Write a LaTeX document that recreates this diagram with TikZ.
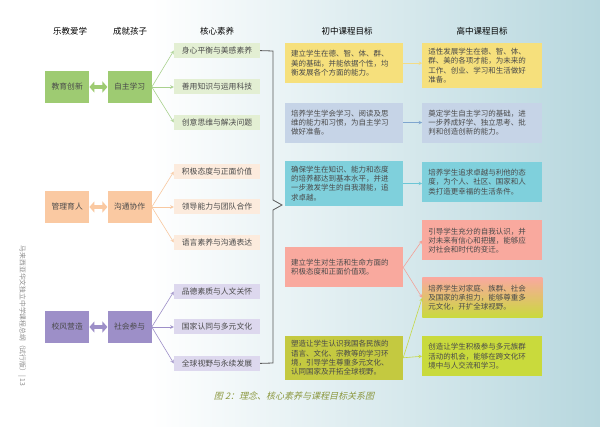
\documentclass[tikz,border=0pt]{standalone}
\usepackage{fontspec}
\setmainfont{Noto Sans CJK SC}
\newfontfamily\capfont[FakeSlant=0.25]{Noto Sans CJK SC}
\usepackage{xcolor}
\usepackage{tikz}
\usetikzlibrary{arrows.meta, positioning}

\definecolor{grpgreen}{HTML}{9ECB72}
\definecolor{coregreen}{HTML}{E3EFD3}
\definecolor{linegreen}{HTML}{A9D18E}
\definecolor{grporange}{HTML}{FAC9A2}
\definecolor{coreorange}{HTML}{FCEBDD}
\definecolor{lineorange}{HTML}{F8C8A0}
\definecolor{grppurple}{HTML}{9D8FC8}
\definecolor{corepurple}{HTML}{DDD8EE}
\definecolor{linepurple}{HTML}{9D8FC8}
\definecolor{goalyellow}{HTML}{F6E07C}
\definecolor{goalblue}{HTML}{C6D4E7}
\definecolor{goalteal}{HTML}{7FD0DC}
\definecolor{goalsalmon}{HTML}{F9A99E}
\definecolor{goalolive}{HTML}{C4C940}
\definecolor{goallime}{HTML}{C9DA3C}
\definecolor{arrowyellow}{HTML}{F3DC86}
\definecolor{arrowblue}{HTML}{7FA6CF}
\definecolor{arrowteal}{HTML}{6CC6D6}
\definecolor{arrowsalmon}{HTML}{F4A096}
\definecolor{arrowlime}{HTML}{C5D845}
\definecolor{textgray}{HTML}{4A4A4A}
\definecolor{capolive}{HTML}{8C9840}
\definecolor{bgmid}{HTML}{EDF1F3}
\definecolor{bgteal}{HTML}{B7D7DE}

\begin{document}
\begin{tikzpicture}[
    x=1pt, y=-1pt,
    heading/.style={
        font=\fontsize{8.5}{10}\selectfont,
        text=black
    },
    group/.style={
        rectangle,
        minimum width=44pt,
        minimum height=32pt,
        inner sep=0pt,
        text=textgray,
        font=\fontsize{7.8}{9}\selectfont
    },
    core/.style={
        rectangle,
        minimum width=86pt,
        minimum height=15pt,
        inner sep=0pt,
        text=textgray,
        font=\fontsize{7.8}{9}\selectfont
    },
    goal/.style={
        rectangle,
        text width=106pt,
        inner xsep=6pt,
        inner ysep=3pt,
        minimum height=40pt,
        align=left,
        text=textgray,
        font=\fontsize{7.5}{9.2}\selectfont
    },
    sgoal/.style={
        goal,
        text width=108pt
    },
    arrow/.style={
        ->,
        >=stealth,
        line width=0.6pt
    },
    twoway/.style={
        line width=4pt,
        {Triangle[length=5pt,width=11pt]}-{Triangle[length=5pt,width=11pt]}
    },
    bracket/.style={
        draw=black!65,
        line width=0.8pt
    }
]
% BACKGROUND
\useasboundingbox (0,0) rectangle (600,427);
\fill [white] (0,0) rectangle (600,427);
\shade [left color=white, middle color=bgmid, right color=bgteal] (150,0) rectangle (600,427);
% HEADINGS
\node (hedu) [heading] at (70,31) {乐教爱学};
\node (hkid) [heading] at (130,31) {成就孩子};
\node (hcore) [heading] at (217,31) {核心素养};
\node (hjun) [heading] at (347,31) {初中课程目标};
\node (hsen) [heading] at (482,31) {高中课程目标};
% GROUP 1
\node (tech) [core, fill=coregreen] at (217,87) {善用知识与运用科技};
\node (body) [core, fill=coregreen, above=21pt of tech] {身心平衡与美感素养};
\node (create) [core, fill=coregreen, below=20pt of tech] {创意思维与解决问题};
\node (selflearn) [group, fill=grpgreen, left=22pt of tech] {自主学习};
\node (edu) [group, fill=grpgreen, left=18pt of selflearn] {教育创新};
% GROUP 2
\node (lead) [core, fill=coreorange] at (217,207) {领导能力与团队合作};
\node (attitude) [core, fill=coreorange, above=20pt of lead] {积极态度与正面价值};
\node (lang) [core, fill=coreorange, below=20pt of lead] {语言素养与沟通表达};
\node (comm) [group, fill=grporange, left=22pt of lead] {沟通协作};
\node (mgmt) [group, fill=grporange, left=18pt of comm] {管理育人};
% GROUP 3
\node (nation) [core, fill=corepurple] at (217,327) {国家认同与多元文化};
\node (moral) [core, fill=corepurple, above=20pt of nation] {品德素质与人文关怀};
\node (global) [core, fill=corepurple, below=21pt of nation] {全球视野与永续发展};
\node (social) [group, fill=grppurple, left=22pt of nation] {社会参与};
\node (ethos) [group, fill=grppurple, left=18pt of social] {校风营造};
% JUNIOR GOALS
\node (jall) [goal, fill=goalyellow, anchor=north] at (344,43) {建立学生在德、智、体、群、\\美的基础，并能依据个性，均\\衡发展各个方面的能力。};
\node (jlearn) [goal, fill=goalblue, below=19pt of jall] {培养学生学会学习、阅读及思\\维的能力和习惯，为自主学习\\做好准备。};
\node (jexcel) [goal, fill=goalteal, minimum height=45pt, below=18pt of jlearn] {确保学生在知识、能力和态度\\的培养都达到基本水平，并进\\一步激发学生的自我潜能，追\\求卓越。};
\node (jvalue) [goal, fill=goalsalmon, below=41pt of jexcel] {建立学生对生活和生命方面的\\积极态度和正面价值观。};
\node (jworld) [goal, fill=goalolive, minimum height=44pt, below=48pt of jvalue] {塑造让学生认识我国各民族的\\语言、文化、宗教等的学习环\\境，引导学生尊重多元文化、\\认同国家及开拓全球视野。};
% SENIOR GOALS
\node (sall) [sgoal, fill=goalyellow, minimum height=45pt, right=19pt of jall.north east, anchor=north west] {适性发展学生在德、智、体、\\群、美的各项才能，为未来的\\工作、创业、学习和生活做好\\准备。};
\node (slearn) [sgoal, fill=goalblue, below=14pt of sall] {奠定学生自主学习的基础，进\\一步养成好学、独立思考、批\\判和创造创新的能力。};
\node (sexcel) [sgoal, fill=goalteal, below=19pt of slearn] {培养学生追求卓越与利他的态\\度，为个人、社区、国家和人\\类打造更幸福的生活条件。};
\node (sself) [sgoal, fill=goalsalmon, below=18pt of sexcel] {引导学生充分的自我认识，并\\对未来有信心和把握，能够应\\对社会和时代的变迁。};
\node (sduty) [sgoal, top color=goalsalmon, bottom color=goallime, below=17pt of sself] {培养学生对家庭、族群、社会\\及国家的承担力，能够尊重多\\元文化，开扩全球视野。};
\node (sculture) [sgoal, fill=goallime, below=18pt of sduty] {创造让学生积极参与多元族群\\活动的机会，能够在跨文化环\\境中与人交流和学习。};
% DOUBLE ARROWS
\draw [twoway, grpgreen] (edu.east) -- (selflearn.west);
\draw [twoway, grporange] (mgmt.east) -- (comm.west);
\draw [twoway, grppurple] (ethos.east) -- (social.west);
% FAN ARROWS
\draw [arrow, linegreen] (selflearn.east) -- (body.west);
\draw [arrow, linegreen] (selflearn.east) -- (tech.west);
\draw [arrow, linegreen] (selflearn.east) -- (create.west);
\draw [arrow, lineorange] (comm.east) -- (attitude.west);
\draw [arrow, lineorange] (comm.east) -- (lead.west);
\draw [arrow, lineorange] (comm.east) -- (lang.west);
\draw [arrow, linepurple] (social.east) -- (moral.west);
\draw [arrow, linepurple] (social.east) -- (nation.west);
\draw [arrow, linepurple] (social.east) -- (global.west);
% BRACKET
\coordinate (tip) at (282,205);
\draw [bracket] (body.east) -- (273,51) -- (273,200) -- (tip) -- (273,210) -- (273,363) -- (global.east);
% GOAL ARROWS
\draw [arrow, arrowyellow] (jall.east) -- (jall.east -| sall.west);
\draw [arrow, arrowblue] (jlearn.east) -- (slearn.west);
\draw [arrow, arrowteal] (jexcel.east) -- (jexcel.east -| sexcel.west);
\draw [arrow, arrowsalmon] (jvalue.east) -- (sself.west);
\draw [arrow, arrowsalmon] (jvalue.east) -- (sduty.west);
\draw [arrow, arrowlime] (jworld.east) -- (sduty.west);
\draw [arrow, arrowlime] (jworld.east) -- (sculture.west);
% SIDE TEXT AND CAPTION
\node (pagenote) [rotate=-90, text=black!45, font=\fontsize{6.8}{8}\selectfont] at (22,316) {马来西亚华文独立中学课程总纲（试行版）| 13};
\node (caption) [text=capolive, font=\capfont\fontsize{9}{11}\selectfont] at (294,396) {图 2：理念、核心素养与课程目标关系图};
\end{tikzpicture}
\end{document}
